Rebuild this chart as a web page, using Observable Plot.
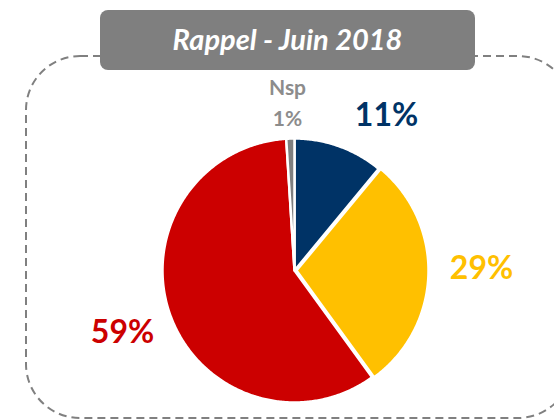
<!DOCTYPE html>
<html><head><meta charset="utf-8">
<script src="https://cdn.jsdelivr.net/npm/d3@7"></script>
<script src="https://cdn.jsdelivr.net/npm/@observablehq/plot@0.6"></script>
<style>html,body{margin:0;padding:0;background:#fff;} #chart svg{display:block}</style>
</head><body><div id="chart"></div>
<script>
// ---- data ----
const categories = ["11%", "29%", "59%", "Nsp"];
const values = [11, 29, 59, 1];
const labels = ["11%", "29%", "59%", "Nsp\n1%"];
const title = "Rappel - Juin 2018";

// ---- styles / layout ----
const sliceColors = ["#003366", "#FFC000", "#CC0000", "#7F7F7F"];
const labelColors = ["#003366", "#FFC000", "#CC0000", "#8C8C8C"];
const labelSizes = [32, 32, 32, 21];
const W = 554, H = 420, cx = 294, cy = 270, R = 132;
const explode = [0, 2, 0, 0];
// label baseline offsets relative to pie centre
const labelOffsets = [[92, -145], [187, 8], [-172, 72], [-7, -145]];

const arcs = d3.pie().sort(null).value(d => d)(values);
const pts = [];
arcs.forEach((a, i) => {
  const mid = (a.startAngle + a.endAngle) / 2;
  const ox = cx + explode[i] * Math.sin(mid), oy = cy - explode[i] * Math.cos(mid);
  pts.push({k: categories[i], c: sliceColors[i], x: ox, y: oy});
  const n = Math.max(4, Math.ceil((a.endAngle - a.startAngle) / 0.01));
  for (let j = 0; j <= n; j++) {
    const t = a.startAngle + (a.endAngle - a.startAngle) * j / n;
    pts.push({k: categories[i], c: sliceColors[i], x: ox + R * Math.sin(t), y: oy - R * Math.cos(t)});
  }
});
const labelData = labels.map((t, i) => ({t, c: labelColors[i], s: labelSizes[i], x: cx + labelOffsets[i][0], y: cy + labelOffsets[i][1]}));

const plot = Plot.plot({
  width: W, height: H, margin: 0,
  x: {domain: [0, W], range: [0, W], axis: null},
  y: {domain: [0, H], range: [0, H], axis: null},
  color: {type: "identity"},
  style: {background: "white"},
  marks: [
    Plot.rect([0], {x1: () => 26, x2: () => 572, y1: () => 56, y2: () => 418, rx: 54, fill: "none", stroke: "#808080", strokeWidth: 2, strokeDasharray: "8,5"}),
    Plot.rect([0], {x1: () => 100, x2: () => 475, y1: () => 10, y2: () => 70, rx: 8, fill: "#7f7f7f"}),
    Plot.text([title], {x: () => 287, y: () => 49, text: d => d, fill: "white", fontSize: 29, fontWeight: "bold", fontStyle: "italic", fontFamily: "Lato", lineAnchor: "bottom"}),
    Plot.line(pts, {x: "x", y: "y", z: "k", fill: "c", stroke: "white", strokeWidth: 2.5, strokeLinejoin: "round", curve: "linear-closed"}),
    ...labelData.map(d => Plot.text([d], {x: "x", y: "y", text: "t", fill: "c", fontSize: d.s, fontWeight: "bold", fontFamily: "Lato", lineAnchor: "bottom", lineHeight: 1.45}))
  ]
});
document.getElementById("chart").appendChild(plot);
</script></body></html>
